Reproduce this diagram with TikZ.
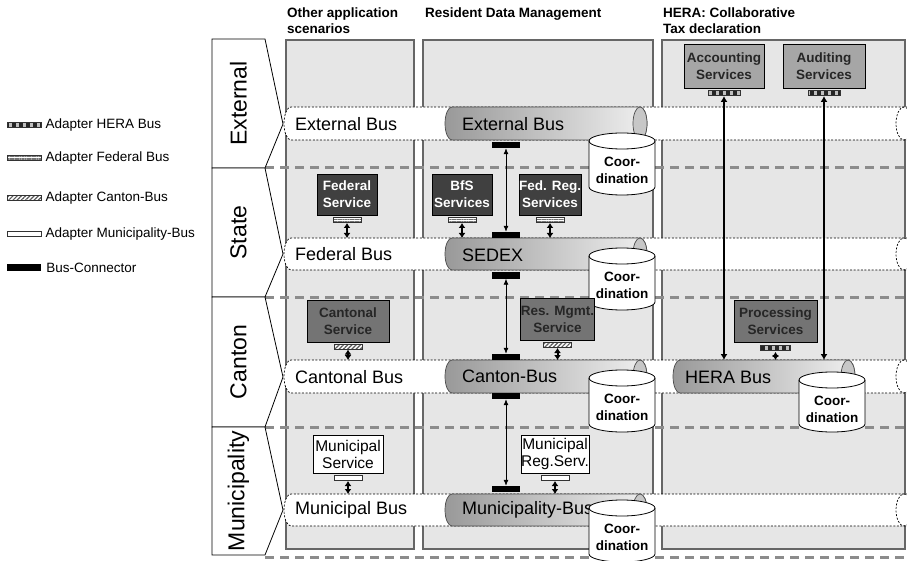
\documentclass[tikz,border=0pt]{standalone}
\usepackage{fontspec}
\setmainfont{Liberation Sans}
\usetikzlibrary{positioning,arrows.meta,patterns.meta}

\definecolor{panelgray}{HTML}{E6E6E6}
\definecolor{paneledge}{HTML}{666666}
\definecolor{lanedash}{HTML}{8C8C8C}
\definecolor{srvdark}{HTML}{404040}
\definecolor{srvmid}{HTML}{747474}
\definecolor{srvlight}{HTML}{A6A6A6}
\definecolor{txtdark}{HTML}{262626}

\tikzset{
  hdr/.style={anchor=north west, inner sep=0pt, align=left, font=\fontsize{13.5}{16}\selectfont\bfseries},
  lanetxt/.style={rotate=90, inner sep=0pt, font=\fontsize{23}{26}\selectfont},
  lanebox/.style={draw=black, fill=white, line width=0.8pt},
  legtxt/.style={anchor=west, inner sep=0pt, font=\fontsize{13.5}{15}\selectfont},
  bustxt/.style={anchor=west, inner sep=0pt, font=\fontsize{18}{20}\selectfont},
  dbtxt/.style={align=center, inner sep=0pt, font=\fontsize{13.5}{17}\selectfont\bfseries},
  panel/.style={fill=panelgray, draw=paneledge, line width=1.2pt},
  levelsep/.style={draw=lanedash, line width=3pt, dash pattern=on 9pt off 6pt},
  band/.style={fill=white, draw=black, line width=0.7pt, dash pattern=on 2pt off 1.6pt},
  bus/.style={draw=black!70, line width=0.7pt, left color=black!40, right color=black!6},
  busend/.style={fill=black!22, draw=black!70, line width=0.7pt},
  db/.style={fill=white, draw=black, line width=0.8pt},
  srv/.style={draw=black, line width=0.8pt, align=center, inner sep=0pt, font=\fontsize{13.5}{17}\selectfont\bfseries},
  fedsrv/.style={srv, fill=srvdark, text=white},
  cantsrv/.style={srv, fill=srvmid, text=txtdark},
  herasrv/.style={srv, fill=srvlight, text=txtdark},
  munsrv/.style={srv, fill=white, text=black, font=\fontsize{15.5}{17}\selectfont},
  adapter/.style={draw=black!80, line width=0.6pt, minimum width=28pt, minimum height=5pt, inner sep=0pt},
  adhera/.style={adapter, preaction={fill=black!25}, pattern={Lines[angle=90,distance=7pt,line width=3.5pt]}, pattern color=black!85},
  adfed/.style={adapter, preaction={fill=white}, pattern={Lines[angle=0,distance=1.7pt,line width=0.6pt]}, pattern color=black!55},
  adcant/.style={adapter, preaction={fill=white}, pattern={Lines[angle=45,distance=3pt,line width=1.2pt]}, pattern color=black!65},
  admun/.style={adapter, fill=white},
  busconn/.style={fill=black, minimum width=28pt, minimum height=6pt, inner sep=0pt},
  link/.style={line width=2pt, {Latex[length=5pt,width=7pt]}-{Latex[length=5pt,width=7pt]}},
  heralink/.style={line width=1.8pt, {Latex[length=6pt,width=7pt]}-{Latex[length=6pt,width=7pt]}},
  conn/.style={line width=0.8pt, {Latex[length=6pt,width=5pt]}-{Latex[length=6pt,width=5pt]}},
}

\begin{document}
\begin{tikzpicture}[x=1pt, y=-1pt]
\useasboundingbox (0,0) rectangle (907,561);

% application columns
\draw[panel] (286,40) rectangle (414,549);
\draw[panel] (423,40) rectangle (653,549);
\draw[panel] (662,40) rectangle (905,549);

\node[hdr] (hother) at (287,8) {Other application\\scenarios};
\node[hdr] (hresident) at (425,8) {Resident Data Management};
\node[hdr] (hhera) at (663,8) {HERA: Collaborative\\Tax declaration};

% level borders
\foreach \y in {168,297,427,557}
  \draw[levelsep] (265,\y) -- (907,\y);

% bus bands running over all columns
\foreach \t/\b in {107/140, 238/270, 360/393, 494/526} {
  \path[band] (915,\t) -- (291,\t) arc[start angle=270, end angle=90, x radius=7, y radius={(\b-\t)/2}] -- (915,\b);
  \draw[band, fill=none] (904,{(\t+\b)/2}) ellipse[x radius=8, y radius={(\b-\t)/2}];
}
\coordinate (exttop) at (0,107);
\coordinate (fedtop) at (0,238);
\coordinate (canttop) at (0,360);
\coordinate (muntop) at (0,494);

% levels
\foreach \t/\b/\m/\name/\lab in {39/168/124/ext/External, 168/297/254/state/State, 297/427/377/cant/Canton, 427/555/510/mun/Municipality} {
  \draw[lanebox] (212,\t) -- (265,\t) -- (283,\m) -- (265,\b) -- (212,\b) -- cycle;
  \node[lanetxt] (lane\name) at (238.5,{(\t+\b)/2}) {\lab};
}

\node[bustxt] (extband) at (295,124) {External Bus};
\node[bustxt] (fedband) at (295,254) {Federal Bus};
\node[bustxt] (cantband) at (295,377) {Cantonal Bus};
\node[bustxt] (munband) at (295,510) {Municipal Bus};

% buses of the resident data management
\foreach \t/\b in {107/140, 238/270, 360/393, 494/526} {
  \draw[bus] (640,\t) -- (452,\t) arc[start angle=270, end angle=90, x radius=7, y radius={(\b-\t)/2}]
    -- (640,\b) arc[start angle=90, end angle=-90, x radius=7, y radius={(\b-\t)/2}] -- cycle;
  \draw[busend] (640,{(\t+\b)/2}) ellipse[x radius=7, y radius={(\b-\t)/2}];
}
% HERA bus
\draw[bus] (848,360) -- (680,360) arc[start angle=270, end angle=90, x radius=7, y radius=16.5]
  -- (848,393) arc[start angle=90, end angle=-90, x radius=7, y radius=16.5] -- cycle;
\draw[busend] (848,376.5) ellipse[x radius=7, y radius=16.5];

\node[bustxt] (extbus) at (462,124) {External Bus};
\node[bustxt] (sedex) at (462,255) {SEDEX};
\node[bustxt] (cantbus) at (462,376) {Canton-Bus};
\node[bustxt] (munbus) at (462,510) {Municipality-Bus};
\node[bustxt] (herabus) at (685,377) {HERA Bus};

% coordination stores
\foreach \c/\t/\b/\n in {622/133/195/ext, 622/248/310/sedex, 622/370/432/cant, 622/500/562/mun, 832/372/432/hera} {
  \draw[db] (\c-33,\t+8) -- (\c-33,\b-8) arc[start angle=180, end angle=0, x radius=33, y radius=8]
    -- (\c+33,\t+8) arc[start angle=0, end angle=-180, x radius=33, y radius=8] -- cycle;
  \draw[db, fill=none] (\c-33,\t+8) arc[start angle=180, end angle=0, x radius=33, y radius=8];
  \node[dbtxt] (coord\n) at (\c,\t+37) {Coor-\\dination};
}

% services
\node[fedsrv, minimum width=60pt, minimum height=41pt] (fedservice) at (347,194.5) {Federal\\Service};
\node[fedsrv, minimum width=60pt, minimum height=41pt] (bfs) at (462,194.5) {BfS\\Services};
\node[fedsrv, minimum width=60pt, minimum height=41pt] (fedreg) at (550,194.5) {Fed. Reg.\\Services};
\node[cantsrv, minimum width=82pt, minimum height=42pt] (cantservice) at (348,321) {Cantonal\\Service};
\node[cantsrv, minimum width=73pt, minimum height=42pt] (resmgmt) at (557.5,319) {Res. Mgmt.\\Service};
\node[cantsrv, minimum width=83pt, minimum height=42pt] (processing) at (775.5,321) {Processing\\Services};
\node[herasrv, minimum width=80pt, minimum height=44pt] (accounting) at (724,66) {Accounting\\Services};
\node[herasrv, minimum width=82pt, minimum height=44pt] (auditing) at (824,66) {Auditing\\Services};
\node[munsrv, minimum width=70pt, minimum height=38pt] (munservice) at (348,454) {Municipal\\Service};
\node[munsrv, minimum width=68pt, minimum height=38pt] (munreg) at (555,454) {Municipal\\Reg.Serv.};

% adapters
\node[adfed, below=2pt of fedservice] (fedserviceadp) {};
\node[adfed, below=2pt of bfs] (bfsadp) {};
\node[adfed, below=2pt of fedreg] (fedregadp) {};
\node[adcant, below=1pt of cantservice] (cantserviceadp) {};
\node[adcant, below=2pt of resmgmt] (resmgmtadp) {};
\node[adhera, minimum width=30pt, below=1pt of processing] (processingadp) {};
\node[adhera, minimum width=32pt, below=2pt of accounting] (accountingadp) {};
\node[adhera, minimum width=32pt, below=2pt of auditing] (auditingadp) {};
\node[admun, below=2pt of munservice] (munserviceadp) {};
\node[admun, below=2pt of munreg] (munregadp) {};

\draw[link] (fedserviceadp.south) -- (fedserviceadp.south |- fedtop);
\draw[link] (bfsadp.south) -- (bfsadp.south |- fedtop);
\draw[link] (fedregadp.south) -- (fedregadp.south |- fedtop);
\draw[link] (cantserviceadp.south) -- (cantserviceadp.south |- canttop);
\draw[link] (resmgmtadp.south) -- (resmgmtadp.south |- canttop);
\draw[link] (processingadp.south) -- (processingadp.south |- canttop);
\draw[link] (munserviceadp.south) -- (munserviceadp.south |- muntop);
\draw[link] (munregadp.south) -- (munregadp.south |- muntop);
\draw[heralink] (accountingadp.south) -- (accountingadp.south |- canttop);
\draw[heralink] (auditingadp.south) -- (auditingadp.south |- canttop);

% bus connectors
\node[busconn] (extout) at (506,145) {};
\node[busconn] (sedexin) at (506,235) {};
\node[busconn] (sedexout) at (506,275.5) {};
\node[busconn] (cantin) at (506,357) {};
\node[busconn] (cantout) at (506,396) {};
\node[busconn] (munin) at (506,489) {};
\draw[conn] (extout) -- (sedexin);
\draw[conn] (sedexout) -- (cantin);
\draw[conn] (cantout) -- (munin);

% legend
\node[adhera, minimum width=34pt] (leghera) at (24,125) {};
\node[legtxt, right=4pt of leghera] (leghera txt) {Adapter HERA Bus};
\node[adfed, minimum width=34pt] (legfed) at (24,158) {};
\node[legtxt, right=4pt of legfed] (legfed txt) {Adapter Federal Bus};
\node[adcant, minimum width=34pt] (legcant) at (24,198) {};
\node[legtxt, right=4pt of legcant] (legcant txt) {Adapter Canton-Bus};
\node[admun, minimum width=34pt] (legmun) at (24,234) {};
\node[legtxt, right=4pt of legmun] (legmun txt) {Adapter Municipality-Bus};
\node[busconn, minimum width=34pt, minimum height=7pt] (legconn) at (24,268) {};
\node[legtxt, right=5pt of legconn] (legconn txt) {Bus-Connector};
\end{tikzpicture}
\end{document}
